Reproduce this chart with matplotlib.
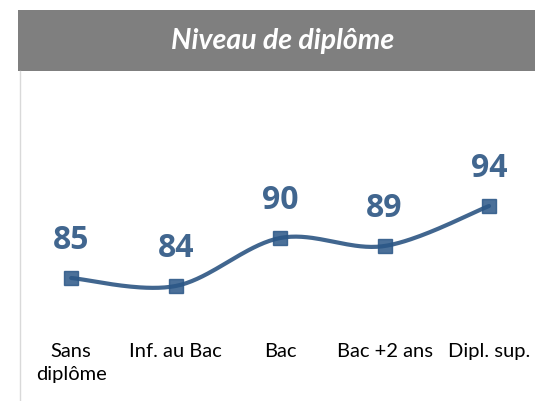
import matplotlib
matplotlib.use("Agg")
import matplotlib.pyplot as plt
from matplotlib.patches import Rectangle
from matplotlib.lines import Line2D
import numpy as np

categories = ["Sans\ndiplôme", "Inf. au Bac", "Bac", "Bac +2 ans", "Dipl. sup."]
values = [85, 84, 90, 89, 94]
title = "Niveau de diplôme"

line_color = "#41668F"
marker_color = "#2B5787"

plt.rcParams['font.family'] = ['Lato', 'DejaVu Sans']


def smooth(xs, ys, n=40):
    # excel-like smoothed line: bezier segments with catmull-rom control points
    xs = np.asarray(xs, float)
    ys = np.asarray(ys, float)
    px = np.concatenate([[xs[0]], xs, [xs[-1]]])
    py = np.concatenate([[ys[0]], ys, [ys[-1]]])
    outx, outy = [], []
    t = np.linspace(0, 1, n)
    for i in range(1, len(px) - 2):
        p0 = np.array([px[i], py[i]])
        p3 = np.array([px[i + 1], py[i + 1]])
        c1 = p0 + (np.array([px[i + 1], py[i + 1]]) - np.array([px[i - 1], py[i - 1]])) / 6
        c2 = p3 - (np.array([px[i + 2], py[i + 2]]) - np.array([px[i], py[i]])) / 6
        b = ((1 - t) ** 3)[:, None] * p0 + (3 * (1 - t) ** 2 * t)[:, None] * c1 \
            + (3 * (1 - t) * t ** 2)[:, None] * c2 + (t ** 3)[:, None] * p3
        outx.extend(b[:, 0])
        outy.extend(b[:, 1])
    return np.array(outx), np.array(outy)


W, H = 535, 402
fig = plt.figure(figsize=(W / 100, H / 100), dpi=100)

# title bar
fig.patches.append(Rectangle((18 / W, 1 - 72 / H), 1 - 18 / W, 61 / H,
                             transform=fig.transFigure, facecolor="#7F7F7F",
                             edgecolor="none", zorder=0))
fig.text(283 / W, 1 - 41 / H, title, color="white", fontsize=20.5,
         fontweight="bold", fontstyle="italic", ha="center", va="center")
# left border
fig.lines.append(Line2D([19.5 / W, 19.5 / W], [0, 1 - 72 / H],
                        transform=fig.transFigure, color="#D9D9D9", lw=1))

ax = fig.add_axes([19 / W, 1 - 337 / H, 1 - 19 / W, 265 / H])
x = np.arange(len(values))
sx, sy = smooth(x, values)
ax.plot(sx, sy, color=line_color, lw=3, solid_capstyle="round", zorder=2)
ax.plot(x, values, ls="none", marker="s", ms=10, color=marker_color,
        alpha=0.85, zorder=3)
for xi, v in zip(x, values):
    ax.annotate(str(v), (xi, v), xytext=(0, 28), textcoords="offset points",
                ha="center", va="center", fontsize=23, fontweight="bold",
                color=line_color, family=["Open Sans", "DejaVu Sans"])

ax.set_xlim(-0.5, 4.44)
ax.set_ylim(77.75, 110.875)
ax.set_xticks(x)
ax.set_xticklabels(categories, fontsize=14.5, color="black", linespacing=1.45)
ax.tick_params(axis="x", length=0, pad=4)
ax.set_yticks([])
for s in ax.spines.values():
    s.set_visible(False)
ax.patch.set_visible(False)

fig.savefig("out.png", dpi=100)
